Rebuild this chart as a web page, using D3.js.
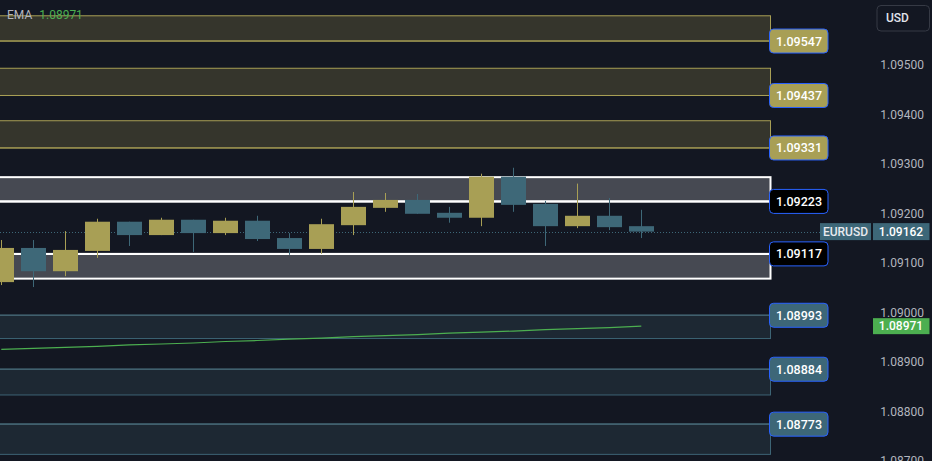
<!DOCTYPE html>
<html>
<head>
<meta charset="utf-8">
<script src="https://cdn.jsdelivr.net/npm/d3@7/dist/d3.min.js"></script>
<style>
html,body{margin:0;padding:0;background:#131722;}
svg{display:block;font-family:Roboto,"DejaVu Sans",sans-serif;}
</style>
</head>
<body>
<svg id="chart" width="932" height="461"></svg>
<script>
// ---- data ----
const symbol = "EURUSD";
const currency = "USD";
const lastPrice = 1.09162;
const emaLast = 1.08971;

const candleIndex = [0,1,2,3,4,5,6,7,8,9,10,11,12,13,14,15,16,17,18,19,20];
const opens  = [1.09060,1.09129,1.09082,1.09123,1.09182,1.09155,1.09186,1.09159,1.09184,1.09149,1.09127,1.09175,1.09210,1.09226,1.09200,1.09190,1.09273,1.09218,1.09173,1.09194,1.09173];
const highs  = [1.09145,1.09145,1.09163,1.09188,1.09182,1.09190,1.09186,1.09190,1.09194,1.09159,1.09188,1.09242,1.09240,1.09238,1.09212,1.09279,1.09291,1.09224,1.09259,1.09230,1.09206];
const lows   = [1.09054,1.09050,1.09072,1.09109,1.09133,1.09155,1.09121,1.09155,1.09143,1.09115,1.09117,1.09155,1.09202,1.09198,1.09180,1.09173,1.09202,1.09133,1.09169,1.09165,1.09149];
const closes = [1.09129,1.09082,1.09125,1.09182,1.09155,1.09186,1.09159,1.09184,1.09147,1.09127,1.09177,1.09212,1.09226,1.09198,1.09190,1.09273,1.09216,1.09173,1.09194,1.09171,1.09162];
const emaValues = [1.08924,1.08926,1.08928,1.08930,1.08933,1.08935,1.08937,1.08940,1.08942,1.08945,1.08947,1.08950,1.08952,1.08954,1.08957,1.08959,1.08961,1.08964,1.08966,1.08968,1.08971];

const zonePrices = [1.09547,1.09437,1.09331,1.09223,1.09117,1.08993,1.08884,1.08773];
const zoneEdges  = [1.09598,1.09492,1.09386,1.09272,1.09067,1.08946,1.08832,1.08712];
const zoneKinds  = ["res","res","res","mid","mid","sup","sup","sup"];

const axisTicks = [1.095,1.094,1.093,1.092,1.091,1.090,1.089,1.088,1.087];

// ---- styles ----
const style = {
  res: {fill:"#35352c", stroke:"#a89f55", sw:1, label:"#a89f55"},
  mid: {fill:"#464952", stroke:"#ffffff", sw:2, label:"#000000"},
  sup: {fill:"#1d2833", stroke:"#3d6475", sw:1, label:"#3d6778"}
};
const upColor = "#a89f55", downColor = "#3e6878";

const svg = d3.select("#chart");
const W = 932, H = 461;

const y = d3.scaleLinear().domain([1.086986, 1.096299]).range([H, 0]);
const x = d3.scaleLinear().domain([0, 20]).range([1.3, 641.3]);
const step = x(1) - x(0);
const bodyW = 25;

svg.append("rect").attr("width",W).attr("height",H).attr("fill","#131722");

const defs = svg.append("defs");
defs.append("clipPath").attr("id","plotclip").append("rect")
  .attr("x",0).attr("y",0).attr("width",820).attr("height",H);

const plot = svg.append("g").attr("clip-path","url(#plotclip)");

// zones
const zones = zonePrices.map((p,i)=>({p, e:zoneEdges[i], k:zoneKinds[i]}));
const zoneRight = 770.5;
zones.forEach(z=>{
  const s = style[z.k];
  const y1 = Math.min(y(z.p), y(z.e)), y2 = Math.max(y(z.p), y(z.e));
  plot.append("rect").attr("x",-5).attr("y",y1).attr("width",zoneRight+5).attr("height",y2-y1)
    .attr("fill",s.fill).attr("stroke",s.stroke).attr("stroke-width",s.sw);
  plot.append("line").attr("x1",0).attr("x2",zoneRight).attr("y1",y(z.p)).attr("y2",y(z.p))
    .attr("stroke", z.k==="sup" ? "#41606e" : s.stroke).attr("stroke-width", z.k==="sup"?1.6:s.sw);
});

// current price dotted line
plot.append("line").attr("x1",0).attr("x2",820).attr("y1",Math.round(y(lastPrice))+0.5).attr("y2",Math.round(y(lastPrice))+0.5)
  .attr("stroke","#3d6778").attr("stroke-width",1).attr("stroke-dasharray","1,2");

// EMA line
const emaLine = d3.line().x((d,i)=>x(candleIndex[i])).y(d=>y(d));
plot.append("path").datum(emaValues).attr("d",emaLine).attr("fill","none")
  .attr("stroke","#4caf50").attr("stroke-width",1.2);

// candles
const candles = candleIndex.map((c,i)=>({i:c,o:opens[i],h:highs[i],l:lows[i],c:closes[i]}));
const cg = plot.append("g");
candles.forEach(d=>{
  const col = d.c >= d.o ? upColor : downColor;
  const cx = Math.round(x(d.i)) + 0.5;
  cg.append("line").attr("x1",cx).attr("x2",cx).attr("y1",y(d.h)).attr("y2",y(d.l))
    .attr("stroke",col).attr("stroke-width",1);
  const top = y(Math.max(d.o,d.c)), bot = y(Math.min(d.o,d.c));
  cg.append("rect").attr("x",Math.round(x(d.i)) - 12).attr("y",top).attr("width",bodyW)
    .attr("height",Math.max(1,bot-top)).attr("fill",col);
});

// zone labels
zones.forEach(z=>{
  const s = style[z.k];
  const cy = y(z.p);
  svg.append("rect").attr("x",769.5).attr("y",cy-12).attr("width",58.5).attr("height",24)
    .attr("rx",4).attr("fill",s.label).attr("stroke","#2962ff").attr("stroke-width",1);
  svg.append("text").attr("x",799).attr("y",cy).attr("dy","0.36em").attr("text-anchor","middle")
    .attr("fill","#ffffff").attr("font-size",12.5).attr("font-weight",500)
    .text(z.p.toFixed(5));
});

// right price axis
const axis = d3.axisRight(y).tickValues(axisTicks).tickSize(0).tickPadding(0)
  .tickFormat(d3.format(".5f"));
const ag = svg.append("g").attr("transform","translate(924,0)").call(axis);
ag.select(".domain").remove();
ag.selectAll("text").attr("text-anchor","end").attr("fill","#b2b5be")
  .attr("font-size",12).attr("font-family","Roboto,sans-serif").attr("dy","0.36em");

// current price labels
const py = y(lastPrice);
svg.append("rect").attr("x",820).attr("y",py-8.5).attr("width",51).attr("height",17).attr("fill","#3d6778");
svg.append("text").attr("x",845.5).attr("y",py).attr("dy","0.36em").attr("text-anchor","middle")
  .attr("fill","#e8eaef").attr("font-size",12).attr("font-weight",500).text(symbol);
svg.append("rect").attr("x",873).attr("y",py-8.5).attr("width",56.5).attr("height",17).attr("fill","#3d6778");
svg.append("text").attr("x",901).attr("y",py).attr("dy","0.36em").attr("text-anchor","middle")
  .attr("fill","#ffffff").attr("font-size",12).attr("font-weight",500).text(lastPrice.toFixed(5));

// EMA price label
const ey = y(emaLast);
svg.append("rect").attr("x",873).attr("y",ey-8).attr("width",56.5).attr("height",16).attr("fill","#4caf50");
svg.append("text").attr("x",901).attr("y",ey).attr("dy","0.36em").attr("text-anchor","middle")
  .attr("fill","#ffffff").attr("font-size",12).attr("font-weight",500).text(emaLast.toFixed(5));

// currency button
svg.append("rect").attr("x",877).attr("y",5.5).attr("width",52.5).attr("height",25.5).attr("rx",4)
  .attr("fill","#131722").attr("stroke","#363a45").attr("stroke-width",1);
svg.append("text").attr("x",886).attr("y",18).attr("dy","0.36em").attr("fill","#e0e3eb")
  .attr("font-size",12).attr("font-weight",500).text(currency);

// legend
const lg = svg.append("text").attr("x",7).attr("y",15).attr("dy","0.36em").attr("font-size",12);
lg.append("tspan").attr("fill","#b2b5be").text("EMA");
lg.append("tspan").attr("dx",7).attr("fill","#4caf50").text(emaLast.toFixed(5));
</script>
</body>
</html>
